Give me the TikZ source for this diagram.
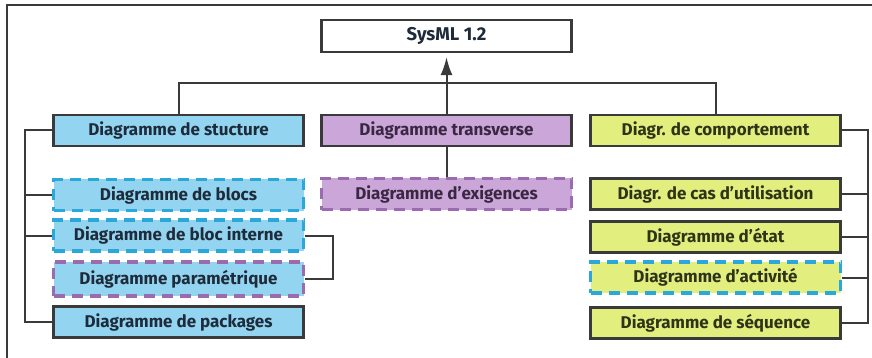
\documentclass[tikz,border=0pt]{standalone}
\usepackage{fontspec}
\setmainfont{Fira Sans}
\usepackage{tikz}
\usetikzlibrary{arrows.meta, positioning, calc}
\definecolor{sysblue}{HTML}{93D5F0}
\definecolor{syscyan}{HTML}{2AA8DA}
\definecolor{syspurple}{HTML}{CBA6D8}
\definecolor{sysviolet}{HTML}{9B6BB0}
\definecolor{sysyellow}{HTML}{E2EE7E}
\definecolor{sysline}{HTML}{3A3A3A}
\definecolor{systext}{HTML}{1E2B3A}
\definecolor{systextp}{HTML}{3A2843}
\definecolor{systexty}{HTML}{2F3418}

\tikzset{
  diagbox/.style={draw=sysline, line width=2.2pt, minimum width=250pt, minimum height=31pt,
    inner sep=0pt, font=\fontsize{17}{19}\selectfont\bfseries, text=systext},
  structbox/.style={diagbox, fill=sysblue},
  transbox/.style={diagbox, fill=syspurple, text=systextp},
  behavbox/.style={diagbox, fill=sysyellow, text=systexty},
  dashcyan/.style={draw=syscyan, line width=3.5pt, dash pattern=on 11pt off 7pt},
  dashviolet/.style={draw=sysviolet, line width=3.5pt, dash pattern=on 11pt off 7pt},
  link/.style={draw=sysline, line width=2pt},
}

\begin{document}
\begin{tikzpicture}[x=1pt, y=-1pt]
    \useasboundingbox (0,0) rectangle (872,358);
    % page frame
    \draw[sysline, line width=1.6pt] (872,5) -- (7,5) -- (7,358);

    \node[diagbox, fill=white, minimum height=32pt, font=\fontsize{18.5}{20}\selectfont\bfseries] (sysml) at (446.5,36) {SysML 1.2};

    % first level
    \node[structbox] (struct) at (178.5,130.5) {Diagramme de stucture};
    \node[transbox] (transv) at (446.5,130.5) {Diagramme transverse};
    \node[behavbox] (behav) at (715.5,130.5) {Diagr. de comportement};

    % structure diagrams
    \node[structbox, dashcyan] (blocs) at (178.5,195) {Diagramme de blocs};
    \node[structbox, dashcyan] (ibd) at (178.5,235.5) {Diagramme de bloc interne};
    \node[structbox, dashviolet, minimum height=34pt] (param) at (178.5,279) {Diagramme paramétrique};
    \node[structbox] (pkg) at (178.5,322) {Diagramme de packages};

    % transverse
    \node[transbox, dashviolet] (req) at (446.5,194) {Diagramme d'exigences};

    % behaviour diagrams
    \node[behavbox] (usecase) at (715.5,194) {Diagr. de cas d'utilisation};
    \node[behavbox] (state) at (715.5,237) {Diagramme d'état};
    \node[behavbox, dashcyan] (activ) at (715.5,277.5) {Diagramme d'activité};
    \node[behavbox] (seq) at (715.5,323) {Diagramme de séquence};

    \coordinate (bus) at (446.5,83);
    \coordinate (lrail) at (25,0);
    \coordinate (rrail) at (868,0);
    \coordinate (prail) at (333,0);

    % links to the top
    \draw[link] (struct.north) |- (bus) -| (behav.north);
    \draw[link, -{Latex[length=18pt, width=12pt]}] (transv.north) -- ([yshift=-4pt]sysml.south);
    \draw[link] (transv.south) -- (req.north);

    % left rail
    \draw[link] (struct.west) -- (struct.west -| lrail) -- (pkg.west -| lrail) -- (pkg.west);
    \draw[link] (blocs.west) -- (blocs.west -| lrail);
    \draw[link] (ibd.west) -- (ibd.west -| lrail);
    \draw[link] (ibd.east) -- (ibd.east -| prail) -- (param.east -| prail) -- (param.east);

    % right rail
    \draw[link] (behav.east) -- (behav.east -| rrail) -- (seq.east -| rrail) -- (seq.east);
    \foreach \n in {usecase, state, activ}
        \draw[link] (\n.east) -- (\n.east -| rrail);
\end{tikzpicture}
\end{document}
